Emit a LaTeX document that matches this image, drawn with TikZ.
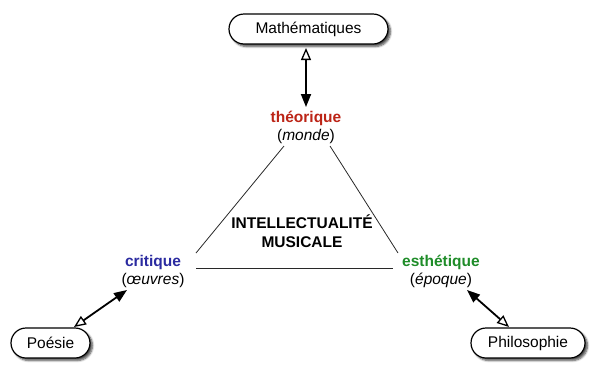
\documentclass[tikz,border=0pt]{standalone}
\usepackage{fontspec}
\setmainfont{Liberation Sans}
\usetikzlibrary{arrows.meta,shadows.blur}
\definecolor{theocol}{RGB}{188,36,22}
\definecolor{critcol}{RGB}{42,42,160}
\definecolor{esthcol}{RGB}{30,140,40}
\definecolor{edgecol}{RGB}{40,40,40}
\begin{document}
\begin{tikzpicture}[x=1pt,y=-1pt,
  pill/.style={draw=black, line width=1.2pt, fill=white, rounded corners=15pt,
    minimum height=30pt, inner sep=0pt, font=\fontsize{15.5}{18}\selectfont,
    blur shadow={shadow xshift=2.5pt, shadow yshift=-2.5pt, shadow blur steps=6,
      shadow blur radius=2pt, shadow opacity=70}},
  concept/.style={align=center, inner sep=2pt, font=\fontsize{15.5}{18}\selectfont},
  title/.style={align=center, inner sep=2pt, font=\fontsize{15.5}{19}\selectfont\bfseries},
  edge/.style={draw=edgecol, line width=0.8pt},
  biarrow/.style={draw=black, line width=1.8pt,
    {Triangle[open,length=12pt,width=10pt,line width=1.3pt]}-{Triangle[length=13pt,width=10pt]}}
]
\useasboundingbox (0,0) rectangle (592,365);

% outer disciplines
\node[pill, minimum width=159pt] (math) at (308.5,29) {Mathématiques};
\node[pill, minimum width=79pt] (poesie) at (50.5,343) {Poésie};
\node[pill, minimum width=114pt] (philo) at (528,343) {Philosophie};

% the three poles
\node[concept] (theo) at (306,127) {\textcolor{theocol}{\bfseries théorique}\\(\textit{monde})};
\node[concept] (crit) at (153,271) {\textcolor{critcol}{\bfseries critique}\\(\textit{œuvres})};
\node[concept] (esth) at (441,271) {\textcolor{esthcol}{\bfseries esthétique}\\(\textit{époque})};

% centre of the triangle
\node[title] (centre) at (302,231) {INTELLECTUALITÉ\\MUSICALE};

% triangle sides
\coordinate (theoL) at (284,146);
\coordinate (theoR) at (330,146);
\coordinate (critT) at (196,253);
\coordinate (critR) at (196,268);
\coordinate (esthT) at (398,253);
\coordinate (esthL) at (393,268);
\draw[edge] (theoL) -- (critT);
\draw[edge] (theoR) -- (esthT);
\draw[edge] (critR) -- (esthL);

% links to the disciplines
\coordinate (mathS) at (306,48);
\coordinate (theoN) at (306,107);
\coordinate (poesieNE) at (74,327);
\coordinate (critSW) at (127,290);
\coordinate (philoNW) at (509,327);
\coordinate (esthSE) at (467,290);
\draw[biarrow] (mathS) -- (theoN);
\draw[biarrow] (poesieNE) -- (critSW);
\draw[biarrow] (philoNW) -- (esthSE);
\end{tikzpicture}
\end{document}
